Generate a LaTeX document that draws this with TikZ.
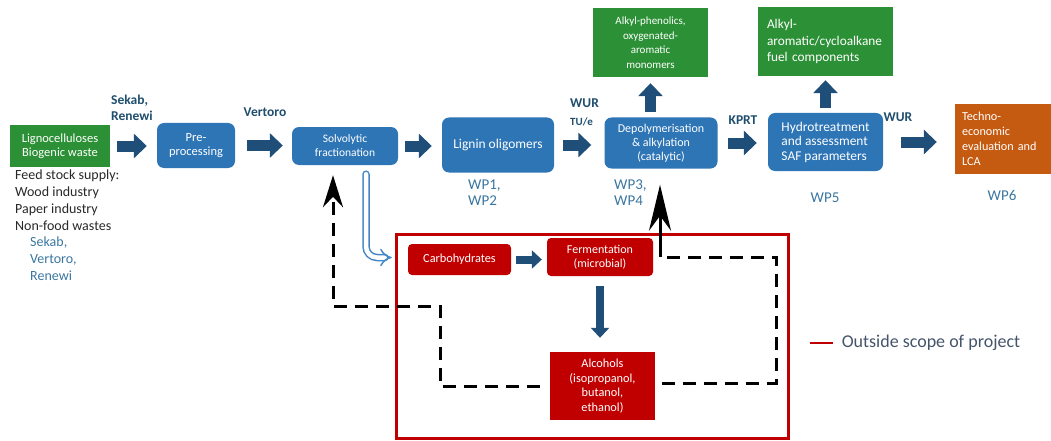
\documentclass[tikz,border=0pt]{standalone}
\usepackage{fontspec}
\setmainfont{Carlito}
\usepackage{xcolor}
\usepackage{tikz}
\usetikzlibrary{arrows.meta,positioning,calc}
\newcommand{\fsz}[2]{\fontsize{#1}{#2}\selectfont}
\definecolor{procblue}{RGB}{46,117,182}
\definecolor{prodgreen}{RGB}{44,145,54}
\definecolor{techorange}{RGB}{197,90,17}
\definecolor{extred}{RGB}{192,0,0}
\definecolor{flowblue}{RGB}{31,78,121}
\definecolor{hollowblue}{RGB}{68,134,196}
\definecolor{partnerblue}{RGB}{31,78,110}
\definecolor{wpblue}{RGB}{58,118,160}
\definecolor{feedgray}{RGB}{40,40,40}
\definecolor{legendslate}{RGB}{68,84,106}
\begin{document}
\begin{tikzpicture}[
  x=1pt, y=-1pt,
  proc/.style={fill=procblue, text=white, rounded corners=7pt, align=center, inner sep=2pt},
  prod/.style={fill=prodgreen, text=white, align=center, inner sep=2pt},
  ext/.style={fill=extred, text=white, align=center, inner sep=2pt},
  scopebox/.style={draw=extred, line width=3pt, minimum width=392pt, minimum height=204pt},
  partner/.style={text=partnerblue, font=\bfseries\fsz{13.5}{16}, align=left, inner sep=0pt},
  wp/.style={text=wpblue, font=\fsz{15}{16}, align=left, inner sep=0pt},
  flow/.style={draw=flowblue, line width=11pt, -{Triangle[length=13pt,width=24pt]}},
  flowsm/.style={draw=flowblue, line width=8pt, -{Triangle[length=10pt,width=18pt]}},
  recycle/.style={draw=black, line width=3pt, dash pattern=on 13pt off 8pt},
  hollow/.style={draw=hollowblue, line width=1.5pt, double=white, double distance=4.5pt,
                 rounded corners=11pt, line cap=round, -{Implies}}
]
\useasboundingbox (0,0) rectangle (1051,441);

\node[prod, minimum width=100pt, minimum height=42pt, font=\fsz{12.5}{14}] (ligno) at (60,146) {Lignocelluloses\\Biogenic waste};
\node[proc, minimum width=78pt, minimum height=45pt, font=\fsz{12.5}{14.5}] (pre) at (196,145.5) {Pre-\\processing};
\node[proc, minimum width=106pt, minimum height=38pt, font=\fsz{11.5}{14}] (solv) at (345,146) {Solvolytic\\fractionation};
\node[proc, minimum width=112pt, minimum height=55pt, font=\fsz{13.5}{14}] (lignin) at (498,145) {Lignin oligomers};
\node[proc, minimum width=113pt, minimum height=51pt, font=\fsz{12}{14}] (depol) at (661,143) {Depolymerisation\\\& alkylation\\(catalytic)};
\node[proc, minimum width=115pt, minimum height=58pt, font=\fsz{13.4}{14.5}, align=left] (hydro) at (825.5,142) {Hydrotreatment\\and assessment\\SAF parameters};
\node[prod, minimum width=115pt, minimum height=69pt, font=\fsz{11}{14.5}] (mono) at (650.5,42.5) {Alkyl-phenolics,\\oxygenated-\\aromatic\\monomers};
\node[prod, minimum width=135pt, minimum height=69pt, text width=117pt, align=left, font=\fsz{13.3}{16.5}] (fuel) at (825.5,41.5) {Alkyl-\\aromatic/cycloalkane\\fuel components};
\node[fill=techorange, text=white, minimum width=96pt, minimum height=70pt, text width=82pt, align=left, inner sep=2pt, font=\fsz{12.2}{15}] (techno) at (1003,139) {Techno-\\economic\\evaluation and\\LCA};

\node[scopebox] (scope) at (592,336) {};
\node[ext, rounded corners=4pt, minimum width=103pt, minimum height=31pt, font=\fsz{12.3}{14}] (carb) at (459.5,259.5) {Carbohydrates};
\node[ext, rounded corners=4pt, minimum width=106pt, minimum height=38pt, font=\fsz{12}{14}] (ferm) at (600,257) {Fermentation\\(microbial)};
\node[ext, minimum width=105pt, minimum height=68pt, font=\fsz{12.3}{14.5}] (alc) at (602.5,386) {Alcohols\\(isopropanol,\\butanol,\\ethanol)};

\node[partner, anchor=west] (sekab) at (111,108) {Sekab,\\Renewi};
\node[partner] (vertoro) at (265,112) {Vertoro};
\node[partner, anchor=west] (wur) at (570,112) {WUR\\[2pt]{\fsz{11}{12}TU/e}};
\node[partner] (kprt) at (743,120) {KPRT};
\node[partner] (wur2) at (898,117) {WUR};

\node[wp, anchor=north west] (wp12) at (468,180) {WP1,\\WP2};
\node[wp, anchor=north west] (wp34) at (614,180) {WP3,\\WP4};
\node[wp] (wp5) at (825,198) {WP5};
\node[wp] (wp6) at (1002,195) {WP6};

\node[anchor=north west, align=left, inner sep=0pt, text=feedgray, font=\fsz{14}{16.7}] (feed) at (15,170) {Feed stock supply:\\Wood industry\\Paper industry\\Non-food wastes};
\node[anchor=north west, align=left, inner sep=0pt, text=wpblue, font=\fsz{14}{17}] (feedpartners) at (30,237) {Sekab,\\Vertoro,\\Renewi};

\coordinate (legend) at (810,343);
\draw[extred, line width=1.5pt] (legend) -- ++(23,0) node[right=8pt, inner sep=0pt, text=legendslate, font=\fsz{18}{20}] (scopenote) {Outside scope of project};

\draw[flow, shorten <=7pt, shorten >=10pt] (ligno.east) -- (ligno.east -| pre.west);
\draw[flow, shorten <=12pt, shorten >=9pt] (pre.east) -- (pre.east -| solv.west);
\draw[flow, shorten <=7pt, shorten >=10pt] (solv.east) -- (solv.east -| lignin.west);
\draw[flow, shorten <=9pt, shorten >=13pt] (lignin.east) -- (lignin.east -| depol.west);
\draw[flow, shorten <=10pt, shorten >=11pt] (depol.east) -- (depol.east -| hydro.west);
\draw[flow, shorten <=18pt, shorten >=18pt] (hydro.east) -- (hydro.east -| techno.west);
\draw[flow, shorten <=5pt, shorten >=6pt] (mono.south |- depol.north) -- (mono.south);
\draw[flow, shorten <=5pt, shorten >=4pt] (hydro.north) -- (hydro.north |- fuel.south);
\draw[flowsm, shorten <=5pt, shorten >=5pt] (carb.east) -- (carb.east -| ferm.west);
\draw[flowsm, shorten <=10pt, shorten >=14pt] (ferm.south) -- (ferm.south |- alc.north);

\draw[hollow, shorten <=9pt, shorten >=16pt] ([xshift=21pt]solv.south) |- ([yshift=2pt]carb.west);

\coordinate (lbend) at (440,306);
\coordinate (lret) at (333,306);
\draw[recycle, shorten <=10pt, shorten >=10pt, -{Stealth[length=32pt,width=20pt]}] (alc.west) -| (lbend) -- (lret) -- (lret |- solv.south);
\coordinate (rbend) at (776,383);
\coordinate (rret) at (660,257);
\draw[recycle, shorten <=7pt] (alc.east |- rbend) -- (rbend) |- (rret);
\draw[recycle, solid, shorten >=16pt, -{Stealth[length=46pt,width=22pt]}] (rret) -- (rret |- depol.south);
\end{tikzpicture}
\end{document}
